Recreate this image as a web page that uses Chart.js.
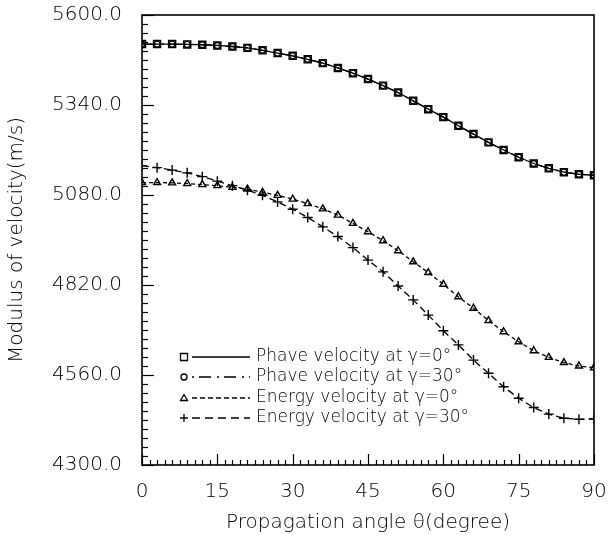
<!DOCTYPE html>
<html>
<head>
<meta charset="utf-8">
<script src="https://cdn.jsdelivr.net/npm/chart.js@4.4.1/dist/chart.umd.min.js"></script>
<style>
html,body{margin:0;padding:0;background:#fff;}
#wrap{width:608px;height:535px;position:relative;}
</style>
</head>
<body>
<div id="wrap"><canvas id="c" width="608" height="535"></canvas></div>
<script>
// ---- data ----
const angles = [0,3,6,9,12,15,18,21,24,27,30,33,36,39,42,45,48,51,54,57,60,63,66,69,72,75,78,81,84,87,90];
const phaseG0 = [5516,5516,5516,5515,5514,5512,5509,5505,5498,5490,5482,5472,5461,5447,5432,5415,5396,5376,5352,5328,5305,5280,5256,5232,5210,5189,5171,5157,5146,5140,5137];
const phaseG30 = [5516,5516,5516,5515,5514,5512,5509,5505,5498,5490,5482,5472,5461,5447,5432,5415,5396,5376,5352,5328,5305,5280,5256,5232,5210,5189,5171,5157,5146,5140,5137];
const energyG0 = [5116,5116,5115,5113,5110,5107,5102,5097,5088,5079,5068,5055,5040,5022,4998,4974,4948,4919,4887,4856,4822,4786,4753,4717,4685,4656,4630,4611,4596,4586,4581];
const energyG30 = [5165,5159,5152,5144,5133,5120,5107,5094,5079,5060,5039,5015,4988,4960,4928,4892,4858,4817,4777,4733,4688,4647,4603,4565,4526,4493,4466,4447,4435,4432,4433];
const seriesLabels = ['Phave velocity at \u03b3=0\u00b0','Phave velocity at \u03b3=30\u00b0','Energy velocity at \u03b3=0\u00b0','Energy velocity at \u03b3=30\u00b0'];
const yTicks = [4300,4560,4820,5080,5340,5600];
const xTicks = [0,15,30,45,60,75,90];

const FONT = "'DejaVu Sans', sans-serif";
const WEIGHT = 200;
const pts = arr => angles.map((a,i)=>({x:a,y:arr[i]}));

const styles = [
  {pointStyle:'rect', radius:5, dash:[], legendDash:[]},
  {pointStyle:'circle', radius:3, dash:[14,6,2,6], legendDash:[2,5,12,6]},
  {pointStyle:'triangle', radius:4, dash:[4,3], legendDash:[5,3]},
  {pointStyle:'cross', radius:5, dash:[7,4], legendDash:[8,5]}
];
const dataArrays = [phaseG0, phaseG30, energyG0, energyG30];

const datasets = dataArrays.map((arr,i)=>({
  label: seriesLabels[i],
  data: pts(arr),
  borderColor:'#000',
  backgroundColor:'rgba(255,255,255,0)',
  borderWidth:1.3,
  borderDash: styles[i].dash,
  pointStyle: styles[i].pointStyle,
  pointRadius: styles[i].radius,
  pointBorderWidth: 1.4,
  pointBorderColor:'#000',
  pointBackgroundColor:'rgba(255,255,255,0)',
  tension:0,
  fill:false
}));

const framePlugin = {
  id:'frame',
  afterDatasetsDraw(chart){
    const {ctx, chartArea:a, scales:{x,y}} = chart;
    ctx.save();
    ctx.strokeStyle='#000';
    ctx.lineWidth=1.6;
    ctx.setLineDash([]);
    ctx.strokeRect(a.left, a.top, a.right-a.left, a.bottom-a.top);
    ctx.lineWidth=1.2;
    for(let k=0;k<=50;k++){
      const v = 4300 + k*26;
      const py = Math.round(y.getPixelForValue(v))+0.5;
      const len = (k%10===0)?12:6;
      ctx.beginPath(); ctx.moveTo(a.left,py); ctx.lineTo(a.left+len,py); ctx.stroke();
    }
    for(let k=0;k<=60;k++){
      const v = k*1.5;
      const px = Math.round(x.getPixelForValue(v))+0.5;
      const len = (k%10===0)?11:5;
      ctx.beginPath(); ctx.moveTo(px,a.bottom); ctx.lineTo(px,a.bottom-len); ctx.stroke();
    }
    const rows=[357,377,398,418];
    chart.data.datasets.forEach((ds,i)=>{
      const yy=rows[i];
      const mx=184;
      ctx.lineWidth=1.3;
      ctx.strokeStyle='#000';
      ctx.setLineDash([]);
      ctx.beginPath();
      if(i===0){ ctx.rect(mx-3.5,yy-3.5,7,7); }
      else if(i===1){ ctx.arc(mx,yy,3,0,Math.PI*2); }
      else if(i===2){ ctx.moveTo(mx,yy-3.5); ctx.lineTo(mx+3.5,yy+2.5); ctx.lineTo(mx-3.5,yy+2.5); ctx.closePath(); }
      else { ctx.moveTo(mx-4,yy); ctx.lineTo(mx+4,yy); ctx.moveTo(mx,yy-4); ctx.lineTo(mx,yy+4); }
      ctx.stroke();
      ctx.setLineDash(styles[i].legendDash);
      ctx.beginPath(); ctx.moveTo(192,yy); ctx.lineTo(250,yy); ctx.stroke();
      ctx.setLineDash([]);
      ctx.fillStyle='#000';
      ctx.font=WEIGHT+" 17px "+FONT;
      ctx.textBaseline='middle';
      ctx.textAlign='left';
      ctx.fillText(ds.label,256,yy);
    });
    ctx.restore();
  }
};

new Chart(document.getElementById('c'),{
  type:'line',
  data:{datasets},
  options:{
    responsive:false,
    animation:false,
    devicePixelRatio:1,
    layout:{padding:{left:0,right:0,top:0,bottom:0}},
    plugins:{legend:{display:false},tooltip:{enabled:false}},
    scales:{
      x:{
        type:'linear', min:0, max:90,
        afterBuildTicks(s){ s.ticks = xTicks.map(v=>({value:v})); },
        afterFit(s){ s.height=70; s.paddingLeft=0; s.paddingRight=14; },
        grid:{display:false, drawTicks:false},
        border:{display:false},
        ticks:{padding:15, color:'#000', font:{family:FONT,size:20,weight:WEIGHT}, maxRotation:0},
        title:{display:true, text:'Propagation angle \u03b8(degree)', color:'#000', font:{family:FONT,size:20,weight:WEIGHT}, padding:{top:0,bottom:0}}
      },
      y:{
        type:'linear', min:4300, max:5600,
        afterBuildTicks(s){ s.ticks = yTicks.map(v=>({value:v})); },
        afterFit(s){ s.width=142; s.paddingTop=15; s.paddingBottom=0; },
        grid:{display:false, drawTicks:false},
        border:{display:false},
        ticks:{padding:20, color:'#000', font:{family:FONT,size:20,weight:WEIGHT}, callback:v=>Number(v).toFixed(1)},
        title:{display:true, text:'Modulus of velocity(m/s)', color:'#000', font:{family:FONT,size:20,weight:WEIGHT}, padding:{top:5,bottom:0}}
      }
    }
  },
  plugins:[framePlugin]
});
</script>
</body>
</html>
